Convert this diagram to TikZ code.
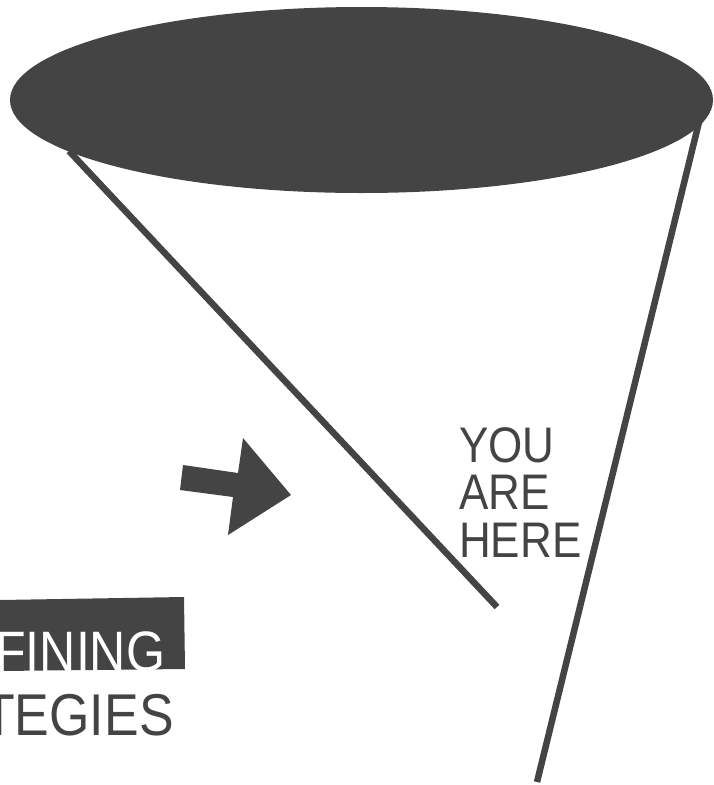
\documentclass[tikz,border=0pt]{standalone}
\usepackage{fontspec}
\newfontfamily\condfont{Liberation Sans}[FakeStretch=0.88]
\usetikzlibrary{positioning}
\definecolor{conegray}{RGB}{68,68,68}

\begin{document}
\begin{tikzpicture}[x=1pt, y=-1pt,
  side/.style={draw=conegray, line width=6.5pt},
  tag/.style={inner sep=0pt, text=conegray, align=left}
]
  \clip (0,0) rectangle (714,785);
  % funnel sides
  \coordinate (lefttop) at (69,151);
  \coordinate (leftend) at (497,607);
  \coordinate (righttop) at (700,118);
  \coordinate (rightend) at (537,782);
  \draw[side] (lefttop) -- (leftend);
  \draw[side] (righttop) -- (rightend);
  % rim of the funnel
  \fill[conegray] (361.5,100) ellipse [x radius=351.5, y radius=93];
  % pointer
  \fill[conegray] (183,465) -- (238,473) -- (243,438) -- (291,495)
    -- (228,535) -- (233,497) -- (180,490) -- cycle;
  \node[tag, anchor=north west, font=\condfont\fontsize{50}{47.5}\selectfont]
    (here) at (459,427) {YOU\\ARE\\HERE};
  % cut-off label
  \fill[conegray] (0,600) -- (184,597) -- (185,669) -- (0,671) -- cycle;
  \node[tag, anchor=base west, text=white, font=\condfont\fontsize{57}{60}\selectfont]
    (fining) at (-5,671) {FINING};
  \node[tag, anchor=base west, font=\condfont\fontsize{59}{60}\selectfont]
    (tegies) at (-17,735) {TEGIES};
\end{tikzpicture}
\end{document}
